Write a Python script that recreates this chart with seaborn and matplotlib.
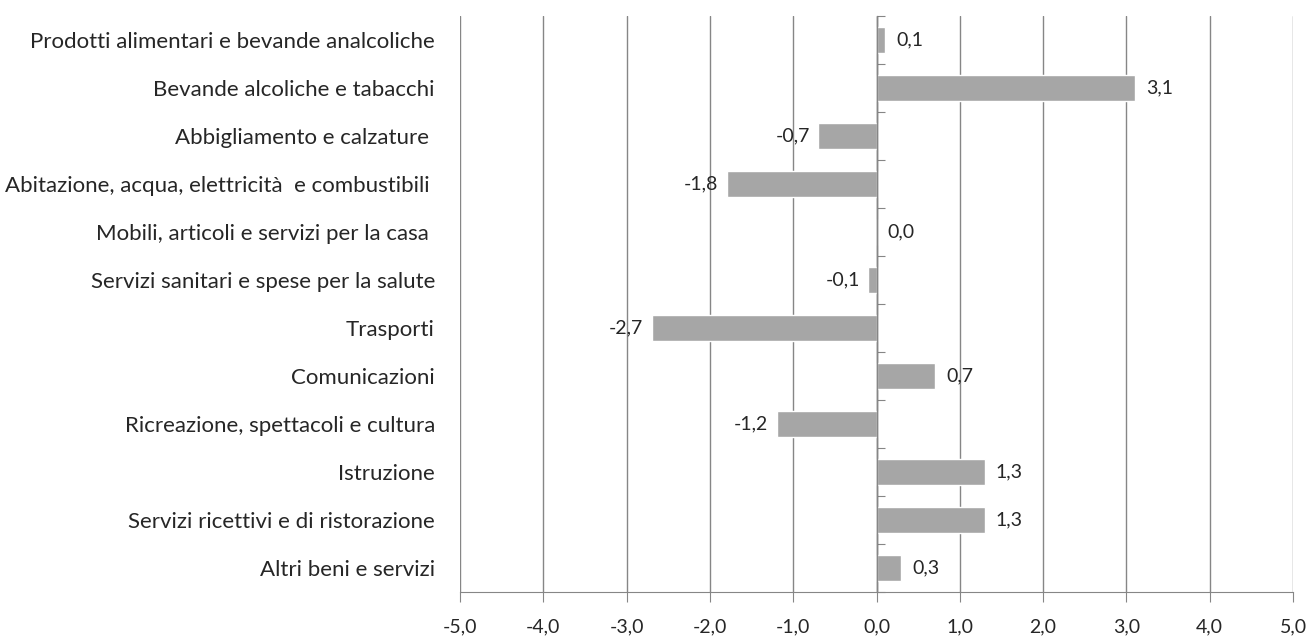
import pandas as pd
import matplotlib
matplotlib.use('Agg')
import matplotlib.pyplot as plt
import seaborn as sns

# Data
categories = [
    'Prodotti alimentari e bevande analcoliche',
    'Bevande alcoliche e tabacchi',
    'Abbigliamento e calzature ',
    'Abitazione, acqua, elettricità  e combustibili ',
    'Mobili, articoli e servizi per la casa ',
    'Servizi sanitari e spese per la salute',
    'Trasporti',
    'Comunicazioni',
    'Ricreazione, spettacoli e cultura',
    'Istruzione',
    'Servizi ricettivi e di ristorazione',
    'Altri beni e servizi',
]
values = [0.1, 3.1, -0.7, -1.8, 0.0, -0.1, -2.7, 0.7, -1.2, 1.3, 1.3, 0.3]
x_ticks = [-5, -4, -3, -2, -1, 0, 1, 2, 3, 4, 5]

df = pd.DataFrame({'categoria': categories, 'valore': values})

sns.set_style('white')
plt.rcParams['font.family'] = ['Lato', 'DejaVu Sans']

fig, ax = plt.subplots(figsize=(13.09, 6.39), dpi=100)
fig.subplots_adjust(left=0.3514, right=0.9878, top=0.975, bottom=0.0736)

sns.barplot(data=df, x='valore', y='categoria', orient='h', color='#a6a6a6',
            saturation=1, width=0.55, ax=ax, zorder=3)

grid_col = '#868686'
ax.set_xlim(-5, 5)
ax.set_ylim(len(categories) - 0.5, -0.5)
ax.set_xticks(x_ticks)
ax.set_xticklabels([f'{t:.1f}'.replace('.', ',') for t in x_ticks], fontsize=14)
ax.xaxis.grid(True, color=grid_col, linewidth=1)
ax.set_axisbelow(True)
ax.tick_params(axis='x', direction='out', length=7, color=grid_col, pad=12, bottom=True)
ax.tick_params(axis='y', length=0, pad=18, labelsize=16)
ax.set_xlabel('')
ax.set_ylabel('')
for s in ['top', 'right', 'left']:
    ax.spines[s].set_visible(False)
ax.spines['bottom'].set_color(grid_col)

# vertical axis at zero with tick marks between categories
ax.axvline(0, color=grid_col, linewidth=1, zorder=4)
sec = ax.secondary_yaxis(0.5)
sec.set_yticks([i - 0.5 for i in range(len(categories) + 1)])
sec.set_yticklabels([])
sec.tick_params(axis='y', direction='out', length=6, color=grid_col)
sec.spines['left'].set_visible(False)

# value labels
for i, v in enumerate(values):
    lab = f'{v:.1f}'.replace('.', ',')
    if v < 0:
        ax.annotate(lab, (v, i), xytext=(-6, 0), textcoords='offset points',
                    ha='right', va='center', fontsize=14)
    else:
        ax.annotate(lab, (v, i), xytext=(8, 0), textcoords='offset points',
                    ha='left', va='center', fontsize=14)

plt.savefig('out.png', dpi=100)
